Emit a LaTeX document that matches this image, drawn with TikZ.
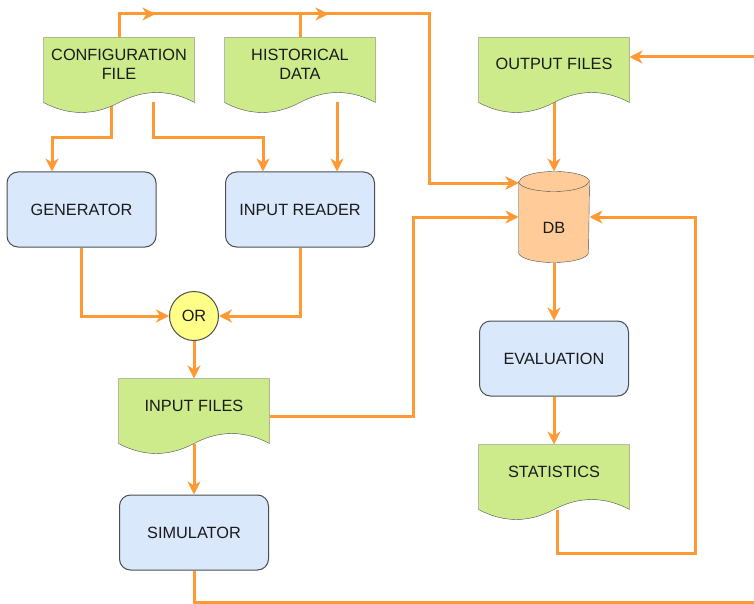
\documentclass[tikz,border=0pt]{standalone}
\usepackage{fontspec}
\setmainfont{Liberation Sans}
\usetikzlibrary{arrows.meta,decorations.markings}
\definecolor{flow}{HTML}{FF9933}
\definecolor{docgreen}{HTML}{CDEB8B}
\definecolor{procblue}{HTML}{DAE8FC}
\definecolor{oryellow}{HTML}{FFFF88}
\definecolor{dborange}{HTML}{FFCC99}
\definecolor{edgegray}{HTML}{4A4D52}
\definecolor{txt}{HTML}{1A1A1A}
\pgfdeclarelayer{edges}
\pgfdeclarelayer{shapes}
\pgfsetlayers{edges,shapes,main}
\tikzset{
  flowtip/.tip={Stealth[length=13pt,width=13pt,inset=4pt]},
  flowline/.style={draw=flow,line width=3pt,-flowtip},
  midarrow/.style={postaction={decorate},
    decoration={markings,mark=at position #1 with {\arrow{flowtip}}}},
  proc/.style={draw=edgegray,fill=procblue,rounded corners=11pt,
    minimum width=149pt,minimum height=75pt},
  doc/.style={minimum width=150pt,minimum height=64pt,align=center,
    text height=20pt,text depth=0pt},
  doclow/.style={doc,text height=12pt,text depth=12pt},
  docfill/.style={draw=edgegray,fill=docgreen},
  dbnode/.style={minimum width=70pt,minimum height=90pt,inner sep=0pt,
    text height=32pt,text depth=0pt},
  dbfill/.style={draw=edgegray,fill=dborange},
  ornode/.style={circle,draw=edgegray,fill=oryellow,minimum size=49pt,inner sep=0pt}
}
\begin{document}
\begin{tikzpicture}[x=1pt,y=-1pt,line width=1pt,text=txt,
    font=\fontsize{16.3}{19}\selectfont]
  \useasboundingbox (0,0) rectangle (754,604);

  \node[doc] (cfg) at (119,70) {CONFIGURATION\\FILE};
  \node[doc] (hist) at (300,70) {HISTORICAL\\DATA};
  \node[doclow] (out) at (554,70) {OUTPUT FILES};
  \node[proc] (gen) at (81.5,209.5) {GENERATOR};
  \node[proc] (rdr) at (300,209.5) {INPUT READER};
  \node[dbnode] (db) at (554,217) {DB};
  \node[ornode] (orgate) at (194,316) {OR};
  \node[doclow] (infile) at (194,411) {INPUT FILES};
  \node[proc] (eval) at (554,358.5) {EVALUATION};
  \node[doclow] (stats) at (554,477) {STATISTICS};
  \node[proc] (sim) at (194,532.5) {SIMULATOR};

  \begin{pgfonlayer}{shapes}
    \foreach \d in {cfg,hist,out,infile,stats}
      \draw[docfill] (\d.north west) -- (\d.north east) -- (\d.south east)
        .. controls +(-25,-13.3) and +(25,-13.3) .. (\d.south)
        .. controls +(-25,13.3) and +(25,13.3) .. (\d.south west) -- cycle;
    \draw[dbfill] ([yshift=-10pt]db.north west) -- ([yshift=10pt]db.south west)
      arc[start angle=180,end angle=360,x radius=35pt,y radius=10pt]
      -- ([yshift=-10pt]db.north east)
      arc[start angle=0,end angle=180,x radius=35pt,y radius=10pt] -- cycle;
    \draw[edgegray] ([yshift=-10pt]db.north west)
      arc[start angle=180,end angle=360,x radius=35pt,y radius=10pt];
  \end{pgfonlayer}

  \begin{pgfonlayer}{edges}
    \draw[flowline,midarrow=60pt] (cfg.north) |- (429,14) |- ([yshift=34pt]db.west);
    \draw[flowline,midarrow=52pt] (hist.north) |- (429,14) |- ([yshift=34pt]db.west);
    \draw[flowline] ([xshift=-8pt]cfg.south) -- ++(0,35) -| ([xshift=-29.5pt]gen.north);
    \draw[flowline] ([xshift=34pt]cfg.south) -- ++(0,35) -| ([xshift=-37pt]rdr.north);
    \draw[flowline] ([xshift=37pt]hist.south) -- ([xshift=37pt]rdr.north);
    \draw[flowline] (gen.south) |- (orgate.west);
    \draw[flowline] (rdr.south) |- (orgate.east);
    \draw[flowline] (orgate.south) -- (infile.north);
    \draw[flowline] ([yshift=-5pt]infile.east) -- ++(144,0) |- (db.west);
    \draw[flowline] (infile.south) -- (sim.north);
    \draw[flowline] (sim.south) -- ++(0,32) -| (790,57) -- ([yshift=13pt]out.east);
    \draw[flowline] (out.south) -- (db.north);
    \draw[flowline] (db.south) -- (eval.north);
    \draw[flowline] (eval.south) -- (stats.north);
    \draw[flowline] ([xshift=3pt]stats.south) |- (695,553) |- (db.east);
  \end{pgfonlayer}
\end{tikzpicture}
\end{document}
